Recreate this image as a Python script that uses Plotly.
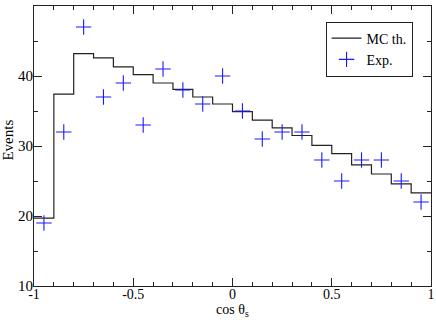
import plotly.graph_objects as go

bin_edges = [-1.0, -0.9, -0.8, -0.7, -0.6, -0.5, -0.4, -0.3, -0.2, -0.1, 0.0,
             0.1, 0.2, 0.3, 0.4, 0.5, 0.6, 0.7, 0.8, 0.9, 1.0]
mc_values = [19.7, 37.4, 43.2, 42.6, 41.3, 40.2, 39.0, 38.1, 37.0, 36.0,
             34.9, 33.7, 32.6, 31.5, 30.1, 28.9, 27.3, 26.0, 24.6, 23.3]
exp_x = [-0.95, -0.85, -0.75, -0.65, -0.55, -0.45, -0.35, -0.25, -0.15, -0.05,
         0.05, 0.15, 0.25, 0.35, 0.45, 0.55, 0.65, 0.75, 0.85, 0.95]
exp_y = [19, 32, 47, 37, 39, 33, 41, 38, 36, 40,
         35, 31, 32, 32, 28, 25, 28, 28, 25, 22]
x_ticks = [-1, -0.5, 0, 0.5, 1]
x_labels = ["-1", "-0.5", "0", "0.5", "1"]
y_ticks = [10, 20, 30, 40, 50]

font = "Liberation Serif, Times New Roman, serif"

fig = go.Figure()
fig.add_trace(go.Scatter(
    x=bin_edges, y=mc_values + [mc_values[-1]], mode="lines", line_shape="hv",
    line=dict(color="#222222", width=1.2), name="MC th."))
fig.add_trace(go.Scatter(
    x=exp_x, y=exp_y, mode="markers", name="Exp.",
    marker=dict(symbol="cross-thin", size=11, line=dict(color="#1a1aff", width=1.1))))

axis_common = dict(showline=True, linecolor="#222222", linewidth=1.2, mirror="ticks",
                   ticks="inside", ticklen=8, tickwidth=1, tickcolor="#222222",
                   showgrid=False, zeroline=False, automargin=False)

fig.update_xaxes(range=[-1, 1], tickvals=x_ticks, ticktext=x_labels,
                 ticklabelstandoff=-5,
                 tickfont=dict(family=font, size=14, color="black"),
                 minor=dict(ticks="inside", ticklen=4, dtick=0.1, tick0=0,
                            tickcolor="#222222", showgrid=False),
                 **axis_common)
fig.update_yaxes(range=[10, 50], tickvals=y_ticks,
                 ticklabelstandoff=-3,
                 tickfont=dict(family=font, size=15, color="black"),
                 minor=dict(ticks="inside", ticklen=4, dtick=5, tick0=0,
                            tickcolor="#222222", showgrid=False),
                 **axis_common)

fig.add_annotation(text="cos θ<sub>s</sub>", xref="paper", yref="paper",
                   x=0.5, y=-0.05, xanchor="center", yanchor="top", showarrow=False,
                   font=dict(family=font, size=14, color="black"))
fig.add_annotation(text="Events", xref="paper", yref="paper", textangle=-90,
                   x=-0.065, y=0.52, xanchor="center", yanchor="middle", showarrow=False,
                   font=dict(family=font, size=15, color="black"))

fig.update_layout(
    width=436, height=322, margin=dict(l=34, r=5, t=6, b=36),
    paper_bgcolor="white", plot_bgcolor="white",
    legend=dict(x=0.844, y=0.846, xanchor="center", yanchor="middle",
                bordercolor="#222222", borderwidth=1, bgcolor="white",
                font=dict(family=font, size=14, color="black"),
                itemwidth=30, tracegroupgap=0),
    showlegend=True,
)
fig.write_html("out.html", config={"displayModeBar": False},
               post_script="document.body.style.margin='0';document.body.style.overflow='hidden';")
